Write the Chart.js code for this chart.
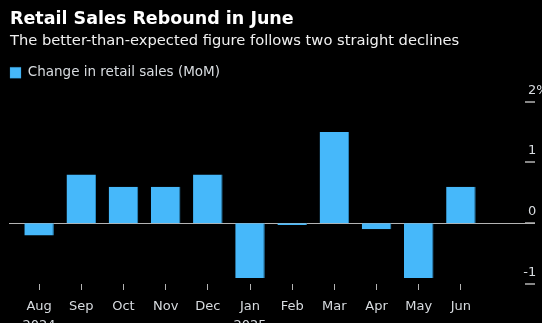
<!DOCTYPE html>
<html>
<head>
<meta charset="utf-8">
<script src="https://cdn.jsdelivr.net/npm/chart.js@4.4.1/dist/chart.umd.min.js"></script>
<style>
  html, body { margin: 0; padding: 0; background: #000; }
  body { width: 542px; height: 323px; position: relative; overflow: hidden; font-family: "DejaVu Sans", sans-serif; }
  .title { position: absolute; left: 10px; top: 8px; color: #fff; font-weight: bold; font-size: 17.5px; line-height: 21px; white-space: nowrap; }
  .subtitle { position: absolute; left: 10px; top: 31px; color: #f0f0f0; font-size: 14.7px; line-height: 18px; white-space: nowrap; }
  #wrap { position: absolute; left: 0; top: 0; width: 542px; height: 323px; }
</style>
</head>
<body>
<div id="wrap"><canvas id="chart"></canvas></div>
<div class="title">Retail Sales Rebound in June</div>
<div class="subtitle">The better-than-expected figure follows two straight declines</div>
<script>
const months = ['Aug', 'Sep', 'Oct', 'Nov', 'Dec', 'Jan', 'Feb', 'Mar', 'Apr', 'May', 'Jun'];
const years = ['2024', '', '', '', '', '2025', '', '', '', '', ''];
const retailChange = [-0.2, 0.8, 0.6, 0.6, 0.8, -0.9, -0.03, 1.5, -0.1, -0.9, 0.6];
const yTicks = [-1, 0, 1, 2];

const BLUE = '#46b8fa';
const TEXT = '#d8dce0';
const AXIS = '#b4b4b4';

// zero line plus the right-hand value ticks
const axisPlugin = {
  id: 'axisPlugin',
  beforeDatasetsDraw(chart) {
    const { ctx } = chart;
    const y = chart.scales.y.getPixelForValue(0);
    ctx.save();
    ctx.strokeStyle = AXIS;
    ctx.lineWidth = 1;
    ctx.beginPath();
    ctx.moveTo(9, Math.round(y) + 0.5);
    ctx.lineTo(535, Math.round(y) + 0.5);
    ctx.stroke();
    ctx.restore();
  },
  afterDraw(chart) {
    const { ctx } = chart;
    const ys = chart.scales.y;
    ctx.save();
    ctx.font = '13px "DejaVu Sans", sans-serif';
    ctx.fillStyle = TEXT;
    ctx.textBaseline = 'alphabetic';
    ctx.textAlign = 'left';
    yTicks.forEach((v) => {
      const py = Math.round(ys.getPixelForValue(v));
      ctx.strokeStyle = AXIS;
      ctx.lineWidth = 1.5;
      ctx.beginPath();
      ctx.moveTo(525, py);
      ctx.lineTo(535, py);
      ctx.stroke();
      const label = v === 2 ? v + '%' : String(Math.abs(v));
      let x = 528;
      if (v < 0) {
        ctx.fillText('-', x - ctx.measureText('-').width, py - 8);
      }
      ctx.fillText(label, x, py - 8);
    });
    ctx.restore();
  }
};

Chart.defaults.font.family = '"DejaVu Sans", sans-serif';

new Chart(document.getElementById('chart'), {
  type: 'bar',
  data: {
    labels: months,
    datasets: [{
      label: 'Change in retail sales (MoM)',
      data: retailChange,
      backgroundColor: BLUE,
      borderColor: '#2c8cc4',
      borderWidth: { right: 1 },
      borderSkipped: false,
      categoryPercentage: 1,
      barPercentage: 0.7
    }]
  },
  options: {
    responsive: true,
    maintainAspectRatio: false,
    animation: false,
    layout: { padding: { top: 56, right: 60, left: 0, bottom: 0 } },
    plugins: {
      legend: {
        position: 'top',
        align: 'start',
        labels: {
          boxWidth: 11,
          boxHeight: 11,
          padding: 10,
          color: TEXT,
          font: { size: 13.5 }
        }
      },
      tooltip: { enabled: false }
    },
    scales: {
      x: {
        grid: { offset: false, drawOnChartArea: false, drawTicks: true, tickLength: 6, tickColor: AXIS },
        border: { display: false },
        ticks: {
          color: TEXT,
          font: { size: 13, lineHeight: 1.45 },
          padding: 7,
          maxRotation: 0,
          autoSkip: false,
          callback: (v, i) => years[i] ? [months[i], years[i]] : months[i]
        },
        afterFit: (s) => { s.height = 39; }
      },
      y: {
        position: 'left',
        min: -1,
        max: 2.2,
        grid: { display: false },
        border: { display: false },
        ticks: { display: false },
        afterFit: (s) => { s.width = 18; }
      }
    }
  },
  plugins: [axisPlugin]
});
</script>
</body>
</html>
